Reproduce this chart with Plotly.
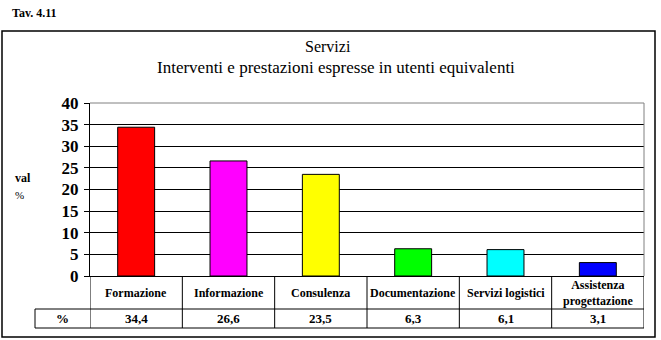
import plotly.graph_objects as go

# Data
categories = ["Formazione", "Informazione", "Consulenza", "Documentazione",
              "Servizi logistici", "Assistenza<br>progettazione"]
values = [34.4, 26.6, 23.5, 6.3, 6.1, 3.1]
bar_colors = ["#FF0000", "#FF00FF", "#FFFF00", "#00FF00", "#00FFFF", "#0000FF"]
y_ticks = [0, 5, 10, 15, 20, 25, 30, 35, 40]

W, H = 661, 340
L, R, T, B = 90, 17, 103, 64
plot_h = H - T - B
plot_w = W - L - R
FONT = "Liberation Serif"


def py(pix):
    """pixel row -> paper y"""
    return (H - B - pix) / plot_h


def px(pix):
    """pixel column -> paper x"""
    return (pix - L) / plot_w


xs = list(range(len(categories)))

fig = go.Figure(go.Bar(
    x=xs, y=values, width=0.4,
    marker=dict(color=bar_colors, line=dict(color="black", width=1)),
    hoverinfo="skip",
))

shapes = []
# outer frame
shapes.append(dict(type="rect", xref="paper", yref="paper",
                   x0=px(2), x1=px(655), y0=py(337), y1=py(31),
                   line=dict(color="black", width=1.5), layer="below"))
# gray plot-area border (top and right)
shapes.append(dict(type="line", xref="paper", yref="paper", x0=0, x1=1, y0=1, y1=1,
                   line=dict(color="#808080", width=1)))
shapes.append(dict(type="line", xref="paper", yref="paper", x0=1, x1=1, y0=0, y1=1,
                   line=dict(color="#808080", width=1)))

# data table grid
row1_bot = py(309)
row2_bot = py(328)
for i in range(len(categories) + 1):
    shapes.append(dict(type="line", xref="x", yref="paper",
                       x0=i - 0.5, x1=i - 0.5, y0=row2_bot, y1=0,
                       line=dict(color="black", width=1)))
shapes.append(dict(type="line", xref="paper", yref="paper",
                   x0=px(35), x1=1, y0=row1_bot, y1=row1_bot,
                   line=dict(color="black", width=1)))
shapes.append(dict(type="line", xref="paper", yref="paper",
                   x0=px(35), x1=1, y0=row2_bot, y1=row2_bot,
                   line=dict(color="black", width=1)))
shapes.append(dict(type="line", xref="paper", yref="paper",
                   x0=px(35), x1=px(35), y0=row2_bot, y1=row1_bot,
                   line=dict(color="black", width=1)))

annotations = []
for i, (cat, v) in enumerate(zip(categories, values)):
    annotations.append(dict(x=i, xref="x", y=(0 + row1_bot) / 2, yref="paper",
                            text="<b>%s</b>" % cat, showarrow=False,
                            font=dict(family=FONT, size=12, color="black"),
                            yanchor="middle", xanchor="center"))
    annotations.append(dict(x=i, xref="x", y=(row1_bot + row2_bot) / 2, yref="paper",
                            text="<b>%s</b>" % ("%.1f" % v).replace(".", ","),
                            showarrow=False,
                            font=dict(family=FONT, size=13, color="black"),
                            yanchor="middle", xanchor="center"))
annotations.append(dict(x=px(62), xref="paper", y=(row1_bot + row2_bot) / 2, yref="paper",
                        text="<b>%</b>", showarrow=False,
                        font=dict(family=FONT, size=13, color="black"),
                        yanchor="middle", xanchor="center"))

# titles and labels
annotations.append(dict(x=px(328), xref="paper", y=py(47), yref="paper",
                        text="Servizi", showarrow=False,
                        font=dict(family=FONT, size=16, color="black"),
                        yanchor="middle", xanchor="center"))
annotations.append(dict(x=px(336), xref="paper", y=py(67), yref="paper",
                        text="Interventi e prestazioni espresse in utenti equivalenti",
                        showarrow=False,
                        font=dict(family=FONT, size=17, color="black"),
                        yanchor="middle", xanchor="center"))
annotations.append(dict(x=px(10), xref="paper", y=py(13), yref="paper",
                        text="<b>Tav. 4.11</b>", showarrow=False,
                        font=dict(family=FONT, size=12, color="black"),
                        yanchor="middle", xanchor="left"))
annotations.append(dict(x=px(13), xref="paper", y=py(178), yref="paper",
                        text="<b>val</b>", showarrow=False,
                        font=dict(family=FONT, size=12, color="black"),
                        yanchor="middle", xanchor="left"))
annotations.append(dict(x=px(13), xref="paper", y=py(195), yref="paper",
                        text="%", showarrow=False,
                        font=dict(family=FONT, size=11, color="black"),
                        yanchor="middle", xanchor="left"))

fig.update_layout(
    width=W, height=H,
    margin=dict(l=L, r=R, t=T, b=B, pad=0),
    paper_bgcolor="white", plot_bgcolor="white",
    showlegend=False,
    shapes=shapes,
    annotations=annotations,
    bargap=0.6,
    xaxis=dict(range=[-0.5, len(categories) - 0.5], showticklabels=False,
               showgrid=False, zeroline=False, showline=True,
               linecolor="black", linewidth=1, ticks="", fixedrange=True),
    yaxis=dict(range=[0, 40], tickvals=y_ticks, showgrid=True,
               gridcolor="black", gridwidth=1, zeroline=False,
               showline=True, linecolor="black", linewidth=1,
               ticks="outside", ticklen=5, tickcolor="black",
               tickfont=dict(family=FONT, size=17, color="black", weight="bold"),
               ticklabelstandoff=2, fixedrange=True),
    font=dict(family=FONT, color="black"),
)

fig.write_html("out.html")
